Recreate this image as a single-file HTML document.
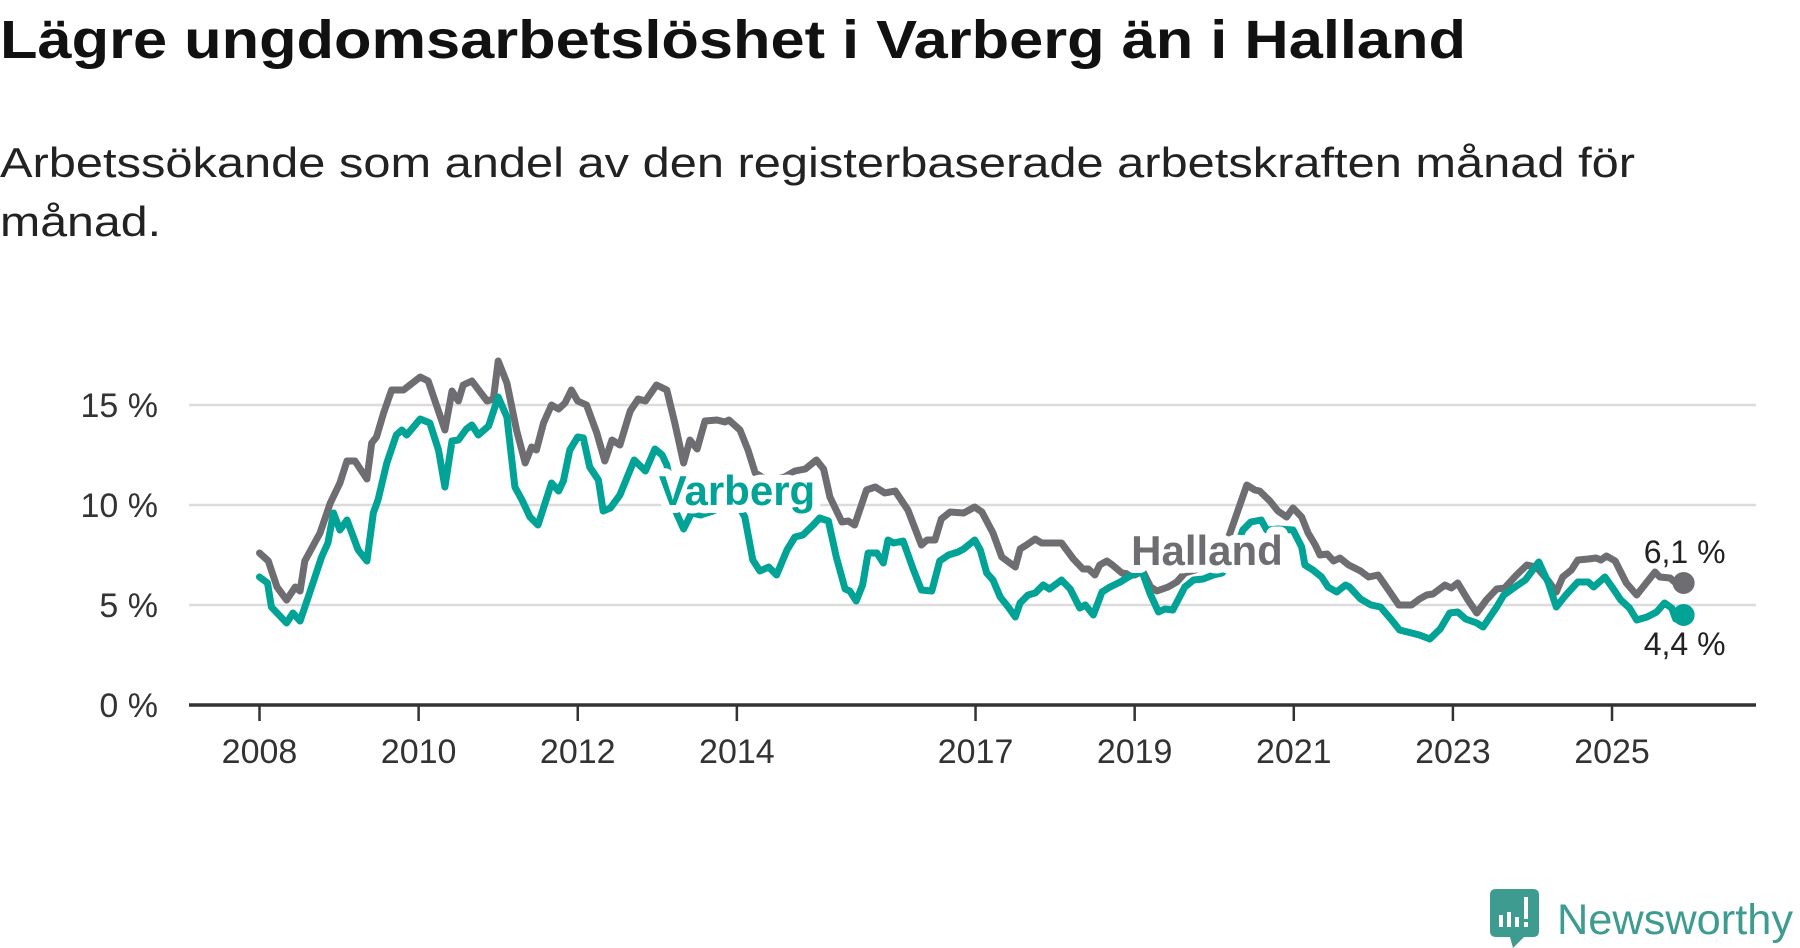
<!DOCTYPE html>
<html><head><meta charset="utf-8"><style>
html,body{margin:0;padding:0;background:#fff;}
svg{display:block;font-family:"Liberation Sans",sans-serif;}
</style></head><body>
<svg id="chart" width="1800" height="948" viewBox="0 0 1800 948" xmlns="http://www.w3.org/2000/svg">
<text x="0" y="58" font-size="54" font-weight="bold" fill="#111" textLength="1466" lengthAdjust="spacingAndGlyphs">Lägre ungdomsarbetslöshet i Varberg än i Halland</text>
<text x="0" y="177" font-size="42" fill="#222" textLength="1635" lengthAdjust="spacingAndGlyphs">Arbetssökande som andel av den registerbaserade arbetskraften månad för</text>
<text x="0" y="236" font-size="42" fill="#222" textLength="161" lengthAdjust="spacingAndGlyphs">månad.</text>
<g id="grid"></g>
<g id="axes"></g>
<g id="lines"></g>
<g id="labels"></g>
<g>
<path d="M1496 889 H1533 Q1539 889 1539 895 V931 Q1539 937 1533 937 H1524 L1513 948 L1510 937 H1496 Q1490 937 1490 931 V895 Q1490 889 1496 889 Z" fill="#3d9c8f"/>
<rect x="1499" y="915" width="4" height="12" fill="#fff"/><rect x="1507" y="912" width="4" height="15" fill="#fff"/><rect x="1515" y="917" width="4" height="10" fill="#fff"/><rect x="1524" y="897" width="4" height="22" fill="#fff"/><rect x="1524" y="922" width="4" height="5" fill="#fff"/>
<text x="1557" y="934" font-size="43" fill="#3d9c8f" textLength="236" lengthAdjust="spacingAndGlyphs">Newsworthy</text>
</g>
</svg>
<script>
const yTicks=[0,5,10,15];
const yTickLabels=["0 %","5 %","10 %","15 %"];
const xTicks=[2008,2010,2012,2014,2017,2019,2021,2023,2025];
const hallandYears=[2008.0,2008.11,2008.22,2008.34,2008.45,2008.51,2008.57,2008.76,2008.89,2009.01,2009.1,2009.2,2009.35,2009.41,2009.47,2009.56,2009.66,2009.81,2010.02,2010.12,2010.33,2010.42,2010.5,2010.56,2010.67,2010.86,2010.94,2011.0,2011.11,2011.23,2011.34,2011.42,2011.48,2011.57,2011.67,2011.76,2011.84,2011.92,2012.0,2012.11,2012.24,2012.34,2012.43,2012.53,2012.66,2012.76,2012.85,2012.99,2013.12,2013.22,2013.33,2013.41,2013.5,2013.6,2013.75,2013.85,2013.9,2014.04,2014.14,2014.23,2014.4,2014.6,2014.73,2014.86,2015.0,2015.09,2015.17,2015.32,2015.4,2015.48,2015.63,2015.74,2015.86,2015.99,2016.15,2016.32,2016.39,2016.49,2016.57,2016.68,2016.85,2016.99,2017.08,2017.22,2017.33,2017.5,2017.56,2017.64,2017.75,2017.83,2018.08,2018.23,2018.35,2018.42,2018.5,2018.56,2018.65,2018.72,2018.84,2019.0,2019.1,2019.2,2019.28,2019.42,2019.53,2019.63,2019.8,2019.95,2020.1,2020.2,2020.3,2020.41,2020.51,2020.57,2020.7,2020.8,2020.91,2020.99,2021.1,2021.18,2021.27,2021.33,2021.42,2021.5,2021.58,2021.69,2021.84,2021.94,2022.06,2022.19,2022.32,2022.48,2022.58,2022.67,2022.75,2022.9,2022.98,2023.06,2023.19,2023.3,2023.42,2023.55,2023.65,2023.8,2023.93,2024.05,2024.2,2024.3,2024.38,2024.49,2024.57,2024.7,2024.8,2024.86,2024.93,2025.04,2025.18,2025.31,2025.44,2025.54,2025.6,2025.73,2025.8,2025.9];
const hallandValues=[7.6,7.2,5.9,5.25,5.9,5.7,7.2,8.6,10.1,11.1,12.2,12.2,11.3,13.1,13.4,14.6,15.75,15.75,16.4,16.2,13.75,15.7,15.2,16.0,16.2,15.2,15.3,17.2,16.1,13.75,12.1,12.9,12.75,14.1,15.0,14.8,15.1,15.75,15.2,15.0,13.6,12.2,13.25,13.0,14.7,15.3,15.2,16.0,15.75,14.1,12.1,13.25,12.8,14.2,14.25,14.15,14.25,13.75,12.75,11.6,11.2,11.4,11.7,11.8,12.25,11.8,10.4,9.15,9.2,9.0,10.75,10.9,10.6,10.7,9.75,8.0,8.25,8.25,9.3,9.65,9.6,9.9,9.65,8.6,7.4,6.9,7.8,8.0,8.3,8.1,8.1,7.3,6.8,6.8,6.5,7.0,7.2,7.0,6.6,6.5,6.7,5.9,5.7,5.9,6.15,6.6,6.8,7.1,7.5,8.6,9.75,11.0,10.75,10.7,10.2,9.7,9.4,9.85,9.4,8.6,8.0,7.5,7.55,7.2,7.35,7.0,6.7,6.4,6.5,5.75,5.0,5.0,5.3,5.5,5.55,6.0,5.85,6.1,5.25,4.6,5.25,5.8,5.85,6.5,7.0,6.9,6.2,5.65,6.4,6.75,7.25,7.3,7.35,7.25,7.45,7.2,6.1,5.5,6.15,6.65,6.4,6.35,6.1,6.1];
const varbergYears=[2008.0,2008.1,2008.15,2008.34,2008.42,2008.51,2008.63,2008.78,2008.86,2008.93,2009.01,2009.1,2009.24,2009.35,2009.43,2009.49,2009.6,2009.72,2009.79,2009.85,2010.02,2010.14,2010.25,2010.33,2010.42,2010.5,2010.6,2010.67,2010.75,2010.88,2011.0,2011.11,2011.21,2011.3,2011.4,2011.5,2011.59,2011.67,2011.76,2011.82,2011.9,2012.0,2012.07,2012.15,2012.26,2012.32,2012.41,2012.53,2012.71,2012.85,2012.97,2013.06,2013.12,2013.24,2013.33,2013.43,2013.54,2013.7,2013.85,2014.0,2014.1,2014.2,2014.29,2014.4,2014.5,2014.63,2014.73,2014.83,2014.96,2015.04,2015.15,2015.25,2015.36,2015.42,2015.5,2015.58,2015.65,2015.76,2015.84,2015.9,2015.97,2016.09,2016.22,2016.32,2016.45,2016.55,2016.66,2016.78,2016.85,2016.99,2017.06,2017.14,2017.22,2017.31,2017.41,2017.5,2017.56,2017.66,2017.75,2017.85,2017.93,2018.08,2018.19,2018.31,2018.38,2018.48,2018.59,2018.69,2018.82,2018.92,2019.02,2019.1,2019.19,2019.3,2019.38,2019.48,2019.63,2019.74,2019.86,2019.99,2020.1,2020.22,2020.36,2020.46,2020.59,2020.66,2020.8,2020.99,2021.1,2021.14,2021.24,2021.35,2021.43,2021.54,2021.65,2021.7,2021.84,2021.97,2022.09,2022.22,2022.33,2022.48,2022.58,2022.71,2022.84,2022.96,2023.06,2023.16,2023.3,2023.38,2023.55,2023.64,2023.78,2023.91,2024.08,2024.2,2024.3,2024.42,2024.57,2024.7,2024.77,2024.91,2025.0,2025.11,2025.22,2025.31,2025.44,2025.56,2025.66,2025.75,2025.8,2025.9];
const varbergValues=[6.4,6.1,4.9,4.1,4.6,4.2,5.6,7.4,8.1,9.6,8.75,9.25,7.75,7.2,9.6,10.25,12.1,13.5,13.75,13.5,14.3,14.1,12.75,10.9,13.2,13.25,13.8,14.0,13.5,13.95,15.4,14.4,10.9,10.25,9.4,9.0,10.1,11.1,10.7,11.2,12.75,13.4,13.35,11.9,11.25,9.7,9.85,10.5,12.25,11.7,12.8,12.5,12.0,9.6,8.8,9.6,9.5,9.7,10.0,10.1,9.4,7.25,6.7,6.9,6.5,7.75,8.4,8.5,9.0,9.35,9.2,7.4,5.8,5.7,5.2,6.0,7.6,7.6,7.1,8.25,8.1,8.2,6.75,5.75,5.7,7.2,7.5,7.65,7.8,8.25,7.75,6.6,6.25,5.4,4.9,4.4,5.1,5.5,5.6,6.0,5.8,6.25,5.8,4.85,5.0,4.5,5.65,5.9,6.15,6.4,6.6,6.6,5.6,4.65,4.8,4.75,5.9,6.25,6.3,6.5,6.6,7.2,8.75,9.15,9.25,8.75,8.8,8.75,7.9,7.0,6.75,6.4,5.9,5.65,6.0,5.9,5.3,5.0,4.9,4.3,3.75,3.6,3.5,3.3,3.8,4.6,4.65,4.3,4.1,3.9,4.9,5.5,5.9,6.25,7.15,6.1,4.9,5.5,6.15,6.15,5.9,6.4,5.9,5.25,4.85,4.25,4.4,4.65,5.1,4.85,4.3,4.5];
const hallandLast="6,1 %";
const varbergLast="4,4 %";

const NS="http://www.w3.org/2000/svg";
const X0=259.5, PX_YEAR=79.56, Y0=705, PX_PCT=20;
function xScale(yr){return X0+(yr-2008)*PX_YEAR;}
function yScale(v){return Y0-v*PX_PCT;}
function mk(tag,attrs,parent){const e=document.createElementNS(NS,tag);for(const k in attrs)e.setAttribute(k,attrs[k]);parent.appendChild(e);return e;}
const grid=document.getElementById('grid'),axes=document.getElementById('axes'),lines=document.getElementById('lines'),labels=document.getElementById('labels');
yTicks.forEach((t,i)=>{
  if(t>0){const g=mk('line',{x1:189,x2:1756,y1:yScale(t),y2:yScale(t),stroke:'#dcdcdc','stroke-width':2.5},grid);
    
    }
  const tx=mk('text',{x:158,y:yScale(t)+12,'text-anchor':'end','font-size':34,fill:'#333'},axes);
  
  
  tx.textContent=yTickLabels[i];
});
const ax=mk('line',{x1:189,x2:1756,y1:Y0,y2:Y0,stroke:'#333','stroke-width':3.5},axes);


xTicks.forEach(t=>{
  const tk=mk('line',{x1:xScale(t),x2:xScale(t),y1:Y0,y2:Y0+16,stroke:'#333','stroke-width':2.5},axes);
  
  
  const tx=mk('text',{x:xScale(t),y:763,'text-anchor':'middle','font-size':34,fill:'#333'},axes);
  
  
  tx.textContent=String(t);
});
function drawLine(years,vals,color,name){
  const d=years.map((y,i)=>(i?'L':'M')+xScale(y).toFixed(1)+' '+yScale(vals[i]).toFixed(1)).join(' ');
  const p=mk('path',{d:d,fill:'none',stroke:color,'stroke-width':7,'stroke-linejoin':'round','stroke-linecap':'round'},lines);
  
  
  const n=years.length-1;
  const c=mk('circle',{cx:xScale(years[n]),cy:yScale(vals[n]),r:11,fill:color},lines);
  
  
}
drawLine(hallandYears,hallandValues,'#6e6d72','halland');
drawLine(varbergYears,varbergValues,'#00a396','varberg');
function lbl(x,y,txt,color,size,weight,name,halo){
  const t=mk('text',{x:x,y:y,'text-anchor':'middle','font-size':size,'font-weight':weight,fill:color,stroke:'#fff','stroke-width':halo,'paint-order':'stroke','stroke-linejoin':'round'},labels);
  
  
  t.textContent=txt;
}
lbl(737,505,'Varberg','#00a396',42,'bold','varberg-label',16);
lbl(1207,565,'Halland','#6e6d72',42,'bold','halland-label',16);
const hn=hallandYears.length-1, vn=varbergYears.length-1;
lbl(xScale(hallandYears[hn])+1,yScale(hallandValues[hn])-20,hallandLast,'#222',32,'normal','halland-end-value',8);
lbl(xScale(varbergYears[vn])+1,yScale(varbergValues[vn])+40,varbergLast,'#222',32,'normal','varberg-end-value',8);
</script>
</body></html>
